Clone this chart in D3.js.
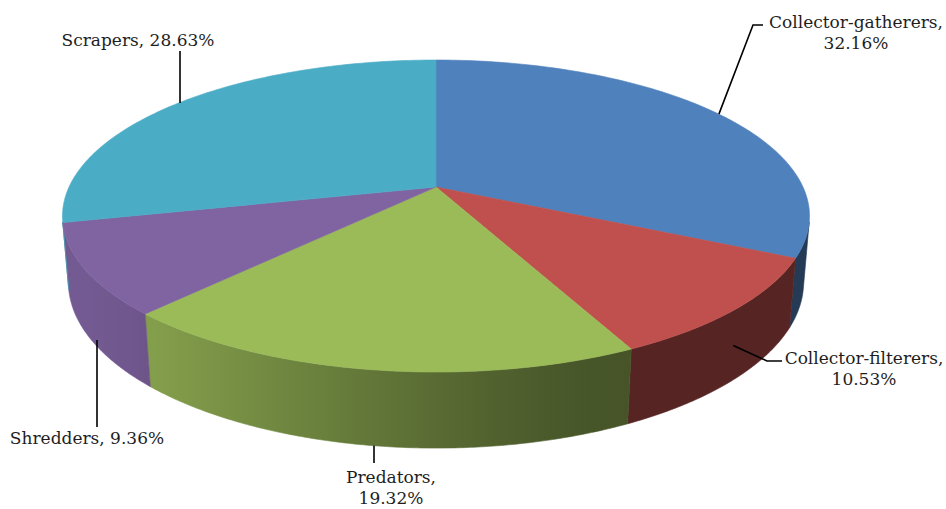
<!DOCTYPE html>
<html><head><meta charset="utf-8">
<script src="https://cdn.jsdelivr.net/npm/d3@7"></script>
<style>html,body{margin:0;padding:0;background:#fff;}svg{display:block;}</style>
</head><body>
<svg id="chart" width="946" height="509"></svg>
<script>
const categories = ["Collector-gatherers", "Collector-filterers", "Predators", "Shredders", "Scrapers"];
const values = [32.16, 10.53, 19.32, 9.36, 28.63];
const valueLabels = ["32.16%", "10.53%", "19.32%", "9.36%", "28.63%"];
const colors = ["#4F81BD", "#C0504D", "#9BBB59", "#8064A2", "#4BACC6"];

const svg = d3.select("#chart");
const defs = svg.append("defs");

// 3D projection of a unit disc (radius 1) seen from above with perspective
const cx = 436, cy = 187;
const D = 4.926, sE = 0.4006, cE = 0.916;
const KX = 367, KV = 376, thick = 0.1916;
function proj(theta, yw, r = 1) {
  const X = r * Math.sin(theta), Z = r * Math.cos(theta);
  const yc = yw * cE + Z * sE;
  const zc = D + Z * cE - yw * sE;
  return [cx + KX * X * D / zc, cy - KV * yc * D / zc];
}

const arcs = d3.pie().sort(null).value(d => d)(values);
const line = d3.line();

// shading of the outer wall by direction
function shade(base, theta) {
  const deg = theta * 180 / Math.PI;
  const c = Math.max(0, Math.cos((deg - 245) * Math.PI / 180));
  const k = 0.45 + 0.45 * Math.pow(c, 1.5);
  const b = d3.rgb(base);
  return d3.rgb(b.r * k, b.g * k, b.b * k).formatHex();
}

// visible part of the outer wall
const lim = Math.acos(-1 / (D * cE)); // first visible angle on the right
const visA = lim, visB = 2 * Math.PI - lim;
const sideG = svg.append("g");
arcs.forEach((a, i) => {
  const s = Math.max(a.startAngle, visA), e = Math.min(a.endAngle, visB);
  if (e <= s) return;
  const n = Math.max(4, Math.ceil((e - s) / (Math.PI / 360)));
  const topPts = [], botPts = [];
  for (let j = 0; j <= n; j++) {
    const t = s + (e - s) * j / n;
    topPts.push(proj(t, 0));
    botPts.push(proj(t, -thick));
  }
  // gradient along x
  const x0 = Math.min(topPts[0][0], topPts[n][0]);
  const x1 = Math.max(topPts[0][0], topPts[n][0]);
  const gid = "side" + i;
  const g = defs.append("linearGradient").attr("id", gid)
    .attr("gradientUnits", "userSpaceOnUse")
    .attr("x1", x0).attr("x2", x1).attr("y1", 0).attr("y2", 0);
  const stops = [];
  for (let j = 0; j <= 12; j++) {
    const t = s + (e - s) * j / 12;
    const px = proj(t, -thick / 2)[0];
    stops.push({off: (x1 - x0) > 0 ? (px - x0) / (x1 - x0) : 0, col: shade(colors[i], t)});
  }
  stops.sort((p, q) => p.off - q.off);
  stops.forEach(st => g.append("stop").attr("offset", Math.max(0, Math.min(1, st.off))).attr("stop-color", st.col));
  const pts = topPts.concat(botPts.reverse());
  sideG.append("path").attr("d", line(pts) + "Z")
    .attr("fill", `url(#${gid})`).attr("stroke", `url(#${gid})`).attr("stroke-width", 0.6);
});

// top faces
const topG = svg.append("g");
arcs.forEach((a, i) => {
  const n = Math.max(4, Math.ceil((a.endAngle - a.startAngle) / (Math.PI / 180)));
  const pts = [proj(0, 0, 0)];
  for (let j = 0; j <= n; j++) {
    const t = a.startAngle + (a.endAngle - a.startAngle) * j / n;
    pts.push(proj(t, 0));
  }
  topG.append("path").attr("d", line(pts) + "Z")
    .attr("fill", colors[i]).attr("stroke", colors[i]).attr("stroke-width", 0.6);
});

// labels with leader lines
const font = "'DejaVu Serif', serif";
const labelSpec = [
  {lines: [categories[0] + ",", valueLabels[0]], x: 856, y: 28, anchorY: 0, leader: [[753, 25], [763, 25]]},
  {lines: [categories[1] + ",", valueLabels[1]], x: 864, y: 364, anchorY: -0.5, leader: [[767, 361], [782, 361]]},
  {lines: [categories[2] + ",", valueLabels[2]], x: 391, y: 483, anchorY: -1, leader: [[374, 463]]},
  {lines: [categories[3] + ", " + valueLabels[3]], x: 87, y: 444, anchorY: -1, leader: [[97, 427]]},
  {lines: [categories[4] + ", " + valueLabels[4]], x: 138, y: 46, anchorY: 0, leader: [[180, 51]]}
];
const labG = svg.append("g");
arcs.forEach((a, i) => {
  const spec = labelSpec[i];
  const mid = (a.startAngle + a.endAngle) / 2;
  const start = proj(mid, spec.anchorY * thick);
  let pts = [start].concat(spec.leader);
  if (i === 3 || i === 2 || i === 4) pts = [[spec.leader[0][0], start[1]], spec.leader[0]];
  labG.append("path").attr("d", line(pts)).attr("fill", "none")
    .attr("stroke", "#000").attr("stroke-width", 1.6);
  const txt = labG.append("text").attr("text-anchor", "middle")
    .attr("font-family", font).attr("font-size", 17).attr("fill", "#1e1e1e");
  spec.lines.forEach((l, j) => {
    txt.append("tspan").attr("x", spec.x).attr("y", spec.y + j * 21).text(l);
  });
});
</script>
</body></html>
